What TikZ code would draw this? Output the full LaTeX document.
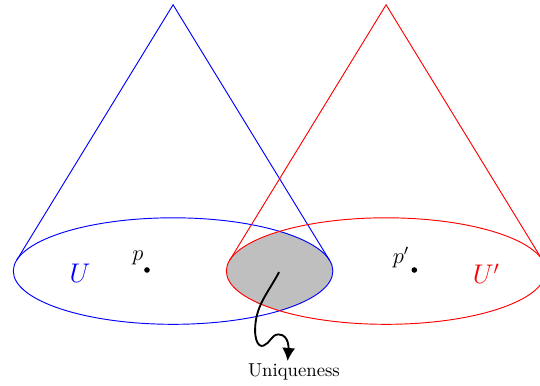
\documentclass[tikz,border=0pt]{standalone}
\usetikzlibrary{arrows.meta}
\begin{document}
\begin{tikzpicture}
\tikzset{
  conel/.style={line width=0.5pt},
  ptdot/.style={circle,fill=black,inner sep=0pt,minimum size=3pt},
}
\useasboundingbox (-3.25,-2.14) rectangle (6.89,5.09);
% intersection shading
\begin{scope}
  \clip (0,0) ellipse [x radius=3cm, y radius=1cm];
  \fill[gray!50] (4,0) ellipse [x radius=3cm, y radius=1cm];
\end{scope}
% blue cone
\coordinate (A) at (0,5);
\coordinate (AL) at (-2.939,0.2);
\coordinate (AR) at (2.939,0.2);
\draw[blue,conel] (0,0) ellipse [x radius=3cm, y radius=1cm];
\draw[blue,conel] (AL) -- (A) -- (AR);
% red cone
\coordinate (B) at (4,5);
\coordinate (BL) at (1.061,0.2);
\coordinate (BR) at (6.939,0.2);
\draw[red,conel] (4,0) ellipse [x radius=3cm, y radius=1cm];
\draw[red,conel] (BL) -- (B) -- (BR);
% labels
\node[blue] (U) at (-1.75,-0.05) {\Large $U$};
\node[red] (Up) at (5.88,-0.05) {\Large $U'$};
\node[ptdot] (pd) at (-0.49,0.02) {};
\node (p) at (-0.66,0.24) {\large $p$};
\node[ptdot] (ppd) at (4.53,0.02) {};
\node (pp) at (4.28,0.26) {\large $p'$};
% uniqueness arrow
\node (uniq) at (2.27,-1.9) {Uniqueness};
\coordinate (s) at (1.99,-0.02);
\coordinate (e) at (2.15,-1.69);
\draw[line width=1pt,-{Latex[length=7pt,width=7pt]}] (s) to[out=-118,in=90] (1.54,-1.12)
  to[out=-90,in=200] (1.7,-1.40) to[out=20,in=180] (1.98,-1.19)
  to[out=0,in=85] (e);
\end{tikzpicture}
\end{document}
